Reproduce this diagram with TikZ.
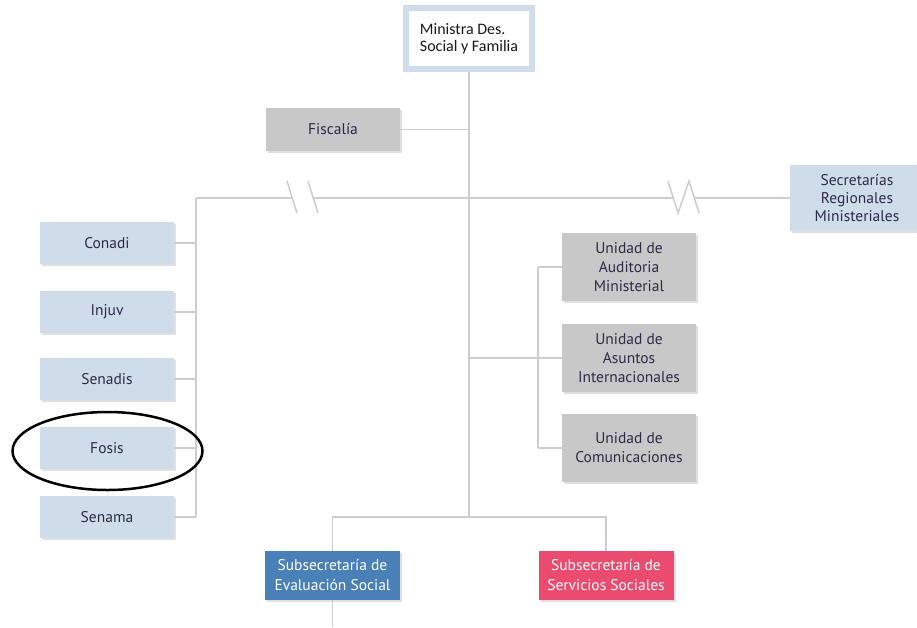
\documentclass[tikz,border=0pt]{standalone}
\usepackage{fontspec}
\setmainfont{PT Sans}
\newfontfamily\ministrafont{Carlito}
\usetikzlibrary{shadows}
\definecolor{org-light}{HTML}{CFDDEB}
\definecolor{org-gray}{HTML}{C8C8C8}
\definecolor{org-blue}{HTML}{4A80B8}
\definecolor{org-pink}{HTML}{EB4B6F}
\definecolor{org-line}{HTML}{CDCDCD}
\definecolor{org-text}{HTML}{2E2A48}
\tikzset{
    org-box/.style = {rectangle, inner sep=2pt, align=center, text=org-text, font=\fontsize{15.5}{19}\selectfont, drop shadow={shadow xshift=2pt, shadow yshift=-2pt, fill=black!12, opacity=1}},
    agency-box/.style = {org-box, fill=org-light, minimum width=134pt, minimum height=42pt},
    unit-box/.style = {org-box, fill=org-gray, minimum width=134pt, minimum height=68pt},
    sub-box/.style = {org-box, text=white, minimum width=135pt, minimum height=49pt, font=\fontsize{15.5}{20}\selectfont},
    org-line/.style = {draw=org-line, line width=1.5pt},
}

\begin{document}
\begin{tikzpicture}[x=1pt, y=-1pt]
\useasboundingbox (0,0) rectangle (917,627);
% top
\node [org-box, fill=white, draw=org-light, line width=6pt, minimum width=126pt, minimum height=61pt, align=left, font=\ministrafont\fontsize{16}{17}\selectfont, text=black!90] (ministra) at (469,38.5) {Ministra Des.\\Social y Familia};
\node [org-box, fill=org-gray, minimum width=134pt, minimum height=43pt] (fiscalia) at (333,129.5) {Fiscalía};
\node [org-box, fill=org-light, minimum width=134pt, minimum height=66pt, font=\fontsize{15.5}{18}\selectfont] (seremi) at (857,198) {Secretarías\\Regionales\\Ministeriales};
% services on the left
\node [agency-box] (conadi) at (107,243) {Conadi};
\node [agency-box] (injuv) at (107,312) {Injuv};
\node [agency-box] (senadis) at (107,379) {Senadis};
\node [agency-box] (fosis) at (107,448) {Fosis};
\node [agency-box] (senama) at (107,517) {Senama};
% units on the right
\node [unit-box] (auditoria) at (629,267) {Unidad de\\Auditoria\\Ministerial};
\node [unit-box] (asuntos) at (629,358) {Unidad de\\Asuntos\\Internacionales};
\node [unit-box] (comunicaciones) at (629,448) {Unidad de\\Comunicaciones};
% subsecretarias
\node [sub-box, fill=org-blue] (evaluacion) at (332.5,575.5) {Subsecretaría de\\Evaluación Social};
\node [sub-box, fill=org-pink] (servicios) at (606,575.5) {Subsecretaría de\\Servicios Sociales};

\coordinate (left-bus) at (196,198);
\coordinate (unit-bus) at (538,358);
\coordinate (sub-bus) at (469,517);
\coordinate (break-a) at (292,198);
\coordinate (break-b) at (313,198);
\coordinate (zig-a) at (673,198);
\coordinate (zig-b) at (694,198);
\coordinate (page-end) at (332.5,627);

% connectors
\draw [org-line] (ministra.south) -- (sub-bus);
\draw [org-line] (fiscalia.east) -- (fiscalia.east -| sub-bus);
\draw [org-line] (left-bus) -- (break-a);
\draw [org-line] (break-b) -- (zig-a);
\draw [org-line] (zig-b) -- (seremi.west);
\draw [org-line] (break-a) ++(-5,-17) -- ++(10,32);
\draw [org-line] (break-b) ++(-5,-17) -- ++(10,32);
\draw [org-line] (zig-a) ++(-5,-17) -- ++(10,32) -- ++(11,-32) -- ++(10,32);
\draw [org-line] (left-bus) -- (senama.east -| left-bus);
\foreach \agency in {conadi,injuv,senadis,fosis,senama}
    \draw [org-line] (\agency.east) -- (\agency.east -| left-bus);
\draw [org-line] (auditoria.west -| unit-bus) -- (comunicaciones.west -| unit-bus);
\draw [org-line] (asuntos.west -| sub-bus) -- (asuntos.west);
\foreach \unit in {auditoria,comunicaciones}
    \draw [org-line] (\unit.west) -- (\unit.west -| unit-bus);
\draw [org-line] (evaluacion.north) -- (evaluacion.north |- sub-bus) -- (servicios.north |- sub-bus) -- (servicios.north);
\draw [org-line] (evaluacion.south) -- (page-end);

% mark round Fosis
\draw [black, line width=2.5pt] (107.5,451) ellipse [x radius=95, y radius=39];
\end{tikzpicture}
\end{document}
